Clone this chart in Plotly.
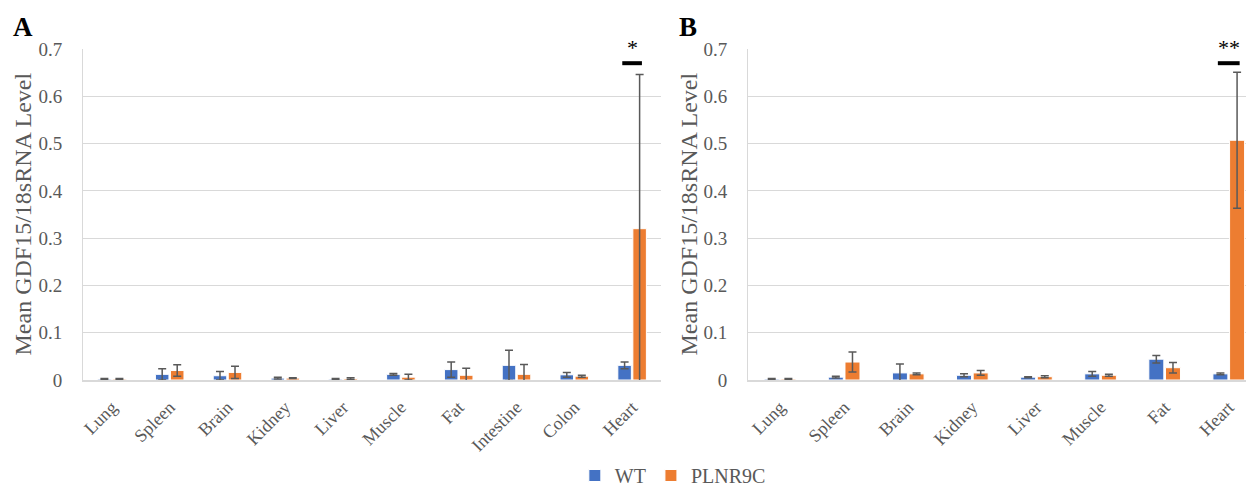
import plotly.graph_objects as go

# ---------------- data ----------------
cats_a = ["Lung", "Spleen", "Brain", "Kidney", "Liver", "Muscle", "Fat", "Intestine", "Colon", "Heart"]
wt_a = [0.002, 0.012, 0.009, 0.004, 0.002, 0.012, 0.022, 0.031, 0.011, 0.031]
wt_a_err = [0.001, 0.012, 0.009, 0.002, 0.001, 0.002, 0.016, 0.032, 0.005, 0.007]
pl_a = [0.002, 0.020, 0.016, 0.004, 0.003, 0.006, 0.010, 0.012, 0.008, 0.320]
pl_a_err = [0.001, 0.012, 0.013, 0.001, 0.002, 0.006, 0.015, 0.021, 0.002, 0.326]

cats_b = ["Lung", "Spleen", "Brain", "Kidney", "Liver", "Muscle", "Fat", "Heart"]
wt_b = [0.002, 0.006, 0.015, 0.010, 0.006, 0.013, 0.044, 0.013]
wt_b_err = [0.001, 0.002, 0.019, 0.003, 0.001, 0.005, 0.008, 0.002]
pl_b = [0.002, 0.038, 0.013, 0.015, 0.007, 0.010, 0.026, 0.507]
pl_b_err = [0.001, 0.021, 0.002, 0.005, 0.002, 0.002, 0.011, 0.144]

series_names = ["WT", "PLNR9C"]
y_ticks = [0, 0.1, 0.2, 0.3, 0.4, 0.5, 0.6, 0.7]
y_tick_text = ["0", "0.1", "0.2", "0.3", "0.4", "0.5", "0.6", "0.7"]
sig_a = ("Heart", "*")
sig_b = ("Heart", "**")

# ---------------- style ----------------
BLUE = "#4472C4"
ORANGE = "#ED7D31"
GRAY = "#595959"
GRID = "#D9D9D9"
FONT = "Liberation Serif"

W, H = 1246, 495


def err(arr):
    return dict(type="data", array=arr, visible=True, color=GRAY, thickness=1.5, width=4)


fig = go.Figure()
fig.add_trace(go.Bar(x=cats_a, y=wt_a, name=series_names[0], marker=dict(color=BLUE, line=dict(color="white", width=1)),
                     error_y=err(wt_a_err), xaxis="x", yaxis="y", legendgroup="wt"))
fig.add_trace(go.Bar(x=cats_a, y=pl_a, name=series_names[1], marker=dict(color=ORANGE, line=dict(color="white", width=1)),
                     error_y=err(pl_a_err), xaxis="x", yaxis="y", legendgroup="pl"))
fig.add_trace(go.Bar(x=cats_b, y=wt_b, name=series_names[0], marker=dict(color=BLUE, line=dict(color="white", width=1)),
                     error_y=err(wt_b_err), xaxis="x2", yaxis="y2", legendgroup="wt", showlegend=False))
fig.add_trace(go.Bar(x=cats_b, y=pl_b, name=series_names[1], marker=dict(color=ORANGE, line=dict(color="white", width=1)),
                     error_y=err(pl_b_err), xaxis="x2", yaxis="y2", legendgroup="pl", showlegend=False))

ydom = [1 - 380 / H, 1 - 49 / H]

xcommon = dict(type="category", tickangle=-45, tickfont=dict(family=FONT, size=18, color=GRAY),
               showline=True, linecolor=GRID, linewidth=1.5, showgrid=False, automargin=False,
               ticks="outside", ticklen=8, tickcolor="rgba(0,0,0,0)", fixedrange=True)
ycommon = dict(range=[0, 0.7], tickvals=y_ticks, ticktext=y_tick_text, automargin=False,
               tickfont=dict(family=FONT, size=19, color=GRAY), showgrid=True, gridcolor=GRID, gridwidth=1,
               showline=True, linecolor=GRID, linewidth=1, zeroline=False,
               ticks="outside", ticklen=16, tickcolor="rgba(0,0,0,0)", domain=ydom, fixedrange=True)

fig.update_layout(
    width=W, height=H, autosize=False,
    margin=dict(l=0, r=0, t=0, b=0, pad=0, autoexpand=False),
    paper_bgcolor="white", plot_bgcolor="white",
    barmode="group", bargap=0.48, bargroupgap=0.1,
    xaxis=dict(domain=[83 / W, 661 / W], range=[-0.5, len(cats_a) - 0.5], anchor="y", **xcommon),
    yaxis=dict(anchor="x", **ycommon),
    xaxis2=dict(domain=[748 / W, 1.0], range=[-0.5, (W - 748) / 64.1 - 0.5], anchor="y2", **xcommon),
    yaxis2=dict(anchor="x2", **ycommon),
    legend=dict(orientation="h", x=0.54, xanchor="center", y=0, yanchor="bottom",
                font=dict(family=FONT, size=20, color=GRAY), itemwidth=30, traceorder="normal",
                borderwidth=0),
    font=dict(family=FONT),
)

# y-axis titles
for xp in [22 / W, 688 / W]:
    fig.add_annotation(text="Mean GDF15/18sRNA Level", xref="paper", yref="paper", x=xp, y=(ydom[0] + ydom[1]) / 2,
                       textangle=-90, showarrow=False, font=dict(family=FONT, size=24, color=GRAY),
                       xanchor="center", yanchor="middle")

# panel labels
fig.add_annotation(text="<b>A</b>", xref="paper", yref="paper", x=11 / W, y=1 - 27 / H, showarrow=False,
                   font=dict(family=FONT, size=27, color="black"), xanchor="left", yanchor="middle")
fig.add_annotation(text="<b>B</b>", xref="paper", yref="paper", x=677 / W, y=1 - 27 / H, showarrow=False,
                   font=dict(family=FONT, size=27, color="black"), xanchor="left", yanchor="middle")

# significance markers
for (cat, star), cats, xr, yr in [(sig_a, cats_a, "x", "y"), (sig_b, cats_b, "x2", "y2")]:
    i = cats.index(cat)
    fig.add_shape(type="line", xref=xr, yref=yr, x0=i - 0.17, x1=i + 0.17, y0=0.67, y1=0.67,
                  line=dict(color="black", width=4))
    fig.add_annotation(text=star, xref=xr, yref=yr, x=i, y=0.672, showarrow=False, yanchor="bottom",
                       font=dict(family=FONT, size=22, color="black"))

fig.write_html("out.html", config=dict(displayModeBar=False, responsive=False),
               post_script="document.body.style.margin='0';document.body.style.overflow='hidden';")
